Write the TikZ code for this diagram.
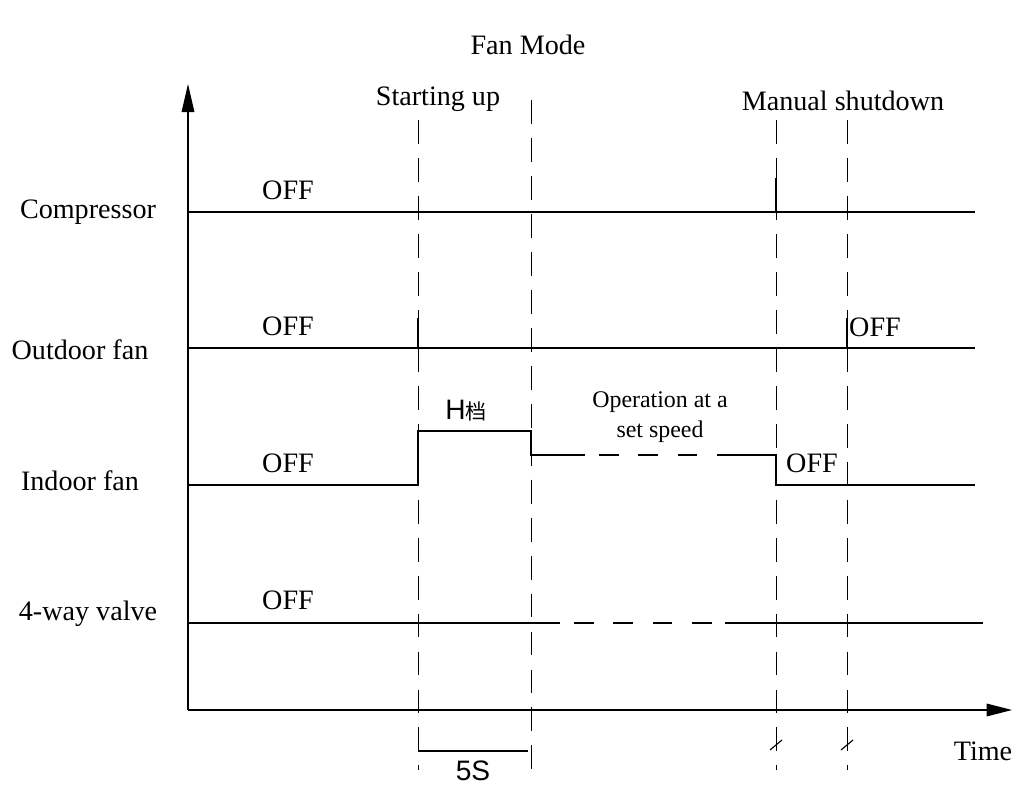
\documentclass[tikz,border=0pt]{standalone}
\usepackage{fontspec}
\setmainfont{Liberation Serif}
\newfontfamily\hfont{Liberation Sans}
\newfontfamily\cjk{Noto Sans CJK SC}
\usetikzlibrary{arrows.meta}
\tikzset{
  sig/.style={line width=0.8pt},
  guide/.style={line width=0.6pt,dash pattern=on 17pt off 10pt},
  gap/.style={line width=0.8pt,dash pattern=on 14pt off 14pt},
  lbl/.style={font=\fontsize{20}{24}\selectfont,inner sep=0pt},
}
\begin{document}
\begin{tikzpicture}[x=0.025cm,y=-0.025cm]
\useasboundingbox (0,0) rectangle (1013,788);
% axes
\draw[sig,-{Triangle[length=20pt,width=9pt]}] (188,710) -- (188,84);
\draw[sig,-{Triangle[length=18pt,width=9pt]}] (188,710) -- (1012,710);
% guides
\draw[guide] (418,120) -- (418,770);
\draw[guide] (531,100) -- (531,770);
\draw[guide] (776,120) -- (776,770);
\draw[guide] (847,120) -- (847,770);
\draw[sig] (770,750) -- (782,740);
\draw[sig] (841,750) -- (853,740);
\draw[sig] (418,751) -- (528,751);
% compressor
\draw[sig] (188,212) -- (975,212);
\draw[line width=1.2pt] (705,212) -- (776,212) -- (776,178);
% outdoor fan
\draw[sig] (188,348) -- (975,348);
\draw[sig] (418,318) -- (418,348);
\draw[sig] (847,318) -- (847,348);
% indoor fan
\draw[sig] (188,485) -- (418,485) -- (418,431) -- (531,431) -- (531,455) -- (585,455);
\draw[gap] (599,455) -- (725,455);
\draw[sig] (725,455) -- (776,455) -- (776,485) -- (975,485);
% 4-way valve
\draw[sig] (188,623) -- (560,623);
\draw[gap] (574,623) -- (725,623);
\draw[sig] (725,623) -- (983,623);
% texts
\node[lbl] (title) at (528,45) {Fan Mode};
\node[lbl] (start) at (438,99) {Starting up};
\node[lbl] (stop) at (843,101) {Manual shutdown};
\node[lbl] (comp) at (88,212) {Compressor};
\node[lbl] (outfan) at (80,350) {Outdoor fan};
\node[lbl] (infan) at (80,481) {Indoor fan};
\node[lbl] (valve) at (88,614) {4-way valve};
\node[lbl] (off1) at (288,190) {OFF};
\node[lbl] (off2) at (288,326) {OFF};
\node[lbl] (off3) at (288,463) {OFF};
\node[lbl] (off4) at (288,600) {OFF};
\node[lbl] (off5) at (875,327) {OFF};
\node[lbl] (off6) at (812,463) {OFF};
\node[inner sep=0pt] (hgear) at (466,411) {\hfont\fontsize{20}{24}\selectfont H\cjk\fontsize{15}{18}\selectfont 档};
\node[lbl,font=\fontsize{17}{21}\selectfont,align=center] (setspeed) at (660,417) {Operation at a\\set speed};
\node[inner sep=0pt,font=\hfont\fontsize{20}{24}\selectfont] (five) at (473,771) {5S};
\node[lbl] (time) at (983,751) {Time};
\end{tikzpicture}
\end{document}
